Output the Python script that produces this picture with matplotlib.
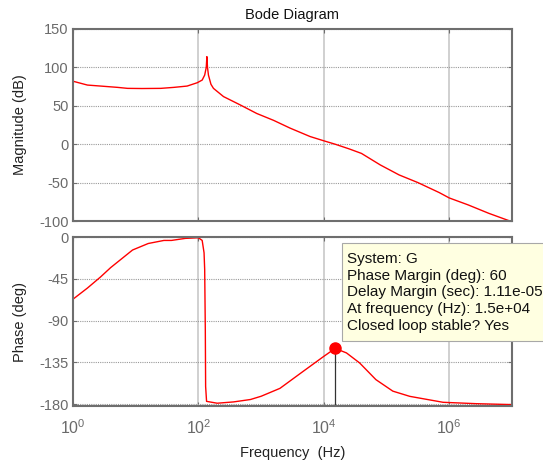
import numpy as np
import matplotlib
matplotlib.use("Agg")
import matplotlib.pyplot as plt
from matplotlib.patches import Rectangle

plt.rcParams['font.family'] = ['Liberation Sans', 'DejaVu Sans']
plt.rcParams['mathtext.fontset'] = 'custom'
plt.rcParams['mathtext.rm'] = 'Liberation Sans'
plt.rcParams['mathtext.default'] = 'regular'
plt.rcParams['axes.unicode_minus'] = False

# Magnitude response (log10 of frequency in Hz, dB)
mag_logf = [0.0, 0.23, 0.44, 0.71, 0.87, 1.1, 1.4, 1.61, 1.82, 1.98, 2.06,
            2.1, 2.125, 2.135, 2.145, 2.16, 2.2, 2.24, 2.4, 2.67, 2.93, 3.2,
            3.46, 3.78, 4.0, 4.18, 4.4, 4.6, 4.9, 5.2, 5.5, 5.84, 6.0, 6.3,
            6.63, 7.0]
mag_db = [82, 77, 75.7, 74, 72.7, 72.5, 72.7, 74, 75.7, 80, 83.5,
          90, 100, 114, 100, 90, 78, 72.7, 62, 51, 40, 31,
          21, 10, 4.4, 0, -6, -12, -27, -40, -50, -63, -70, -79,
          -90, -101]

# Phase response (log10 of frequency in Hz, degrees)
ph_logf = [0.0, 0.23, 0.44, 0.6, 0.95, 1.2, 1.45, 1.57, 1.79, 2.0, 2.06,
           2.09, 2.1, 2.11, 2.115, 2.13, 2.3, 2.56, 2.83, 3.0, 3.3, 3.67,
           4.0, 4.18, 4.36, 4.57, 4.83, 5.1, 5.37, 5.9, 6.43, 7.0]
ph_deg = [-67, -55, -43, -33, -14, -7, -3.7, -3.7, -1.5, -0.8, -3.7,
          -17, -35, -100, -161, -177, -179, -177.6, -175, -171.5, -163, -144.7,
          -128.5, -120, -124.8, -135.6, -153.6, -166, -171.6, -178, -179.5, -180.5]

# Stability margin readout
pm_freq = 1.5e4
pm_phase = -120
margin_lines = ["System: G",
                "Phase Margin (deg): 60",
                "Delay Margin (sec): 1.11e-05",
                "At frequency (Hz): 1.5e+04",
                "Closed loop stable? Yes"]

xtick_exp = [0, 2, 4, 6]
mag_ticks = [-100, -50, 0, 50, 100, 150]
ph_ticks = [-180, -135, -90, -45, 0]

edge = '#6e6e6e'
label_grey = '#6a6a6a'

fig = plt.figure(figsize=(5.43, 4.61), dpi=100)
ax1 = fig.add_axes([0.1344, 0.5206, 0.8085, 0.4165])
ax2 = fig.add_axes([0.1344, 0.1193, 0.8085, 0.3666])

ax1.plot(10 ** np.array(mag_logf), mag_db, color='red', lw=1)
ax2.plot(10 ** np.array(ph_logf), ph_deg, color='red', lw=1)

# phase margin marker with drop line
ax2.plot([pm_freq, pm_freq], [pm_phase, -180], color='#333333', lw=0.9)
ax2.plot(pm_freq, pm_phase, 'o', color='red', ms=8, zorder=5)

for ax, ticks in ((ax1, mag_ticks), (ax2, ph_ticks)):
    ax.set_xscale('log')
    ax.set_xlim(1, 1e7)
    ax.set_yticks(ticks)
    ax.set_xticks([10.0 ** e for e in xtick_exp])
    ax.minorticks_off()
    ax.tick_params(direction='in', length=3, width=0.8, color=edge,
                   labelcolor=label_grey, labelsize=10.5,
                   top=True, right=True, pad=3)
    for s in ax.spines.values():
        s.set_color(edge)
        s.set_linewidth(1.5)
    ax.grid(True, axis='x', color='#c8c8c8', lw=1.2, ls='-')
    ax.grid(True, axis='y', color='#9a9a9a', lw=0.8, ls=(0, (1, 1)))
    ax.set_axisbelow(True)

ax1.set_ylim(-100, 150)
ax1.set_xticklabels([])
ax1.set_ylabel('Magnitude (dB)', fontsize=10.5, color='#222222', labelpad=9)
ax1.set_title('Bode Diagram', fontsize=10.5, color='#111111', pad=7)

ax2.set_ylim(-182, 0)
ax2.set_xticklabels(['$10^{%d}$' % e for e in xtick_exp], fontsize=11.5)
ax2.tick_params(axis='x', pad=9)
ax2.set_ylabel('Phase (deg)', fontsize=10.5, color='#222222', labelpad=9)
ax2.set_xlabel('Frequency  (Hz)', fontsize=10.5, color='#222222', labelpad=6)

# datatip box, runs off the right edge of the figure
tip = Rectangle((0.613, 0.385), 0.6, 0.579, transform=ax2.transAxes,
                facecolor='#ffffe1', edgecolor='#a8a8a8', lw=0.8,
                clip_on=False, zorder=6)
ax2.add_patch(tip)
ax2.text(0.625, 0.91, "\n".join(margin_lines), transform=ax2.transAxes,
         ha='left', va='top', fontsize=11, color='#111111',
         linespacing=1.24, zorder=7, clip_on=False)

fig.savefig('out.png', dpi=100)
